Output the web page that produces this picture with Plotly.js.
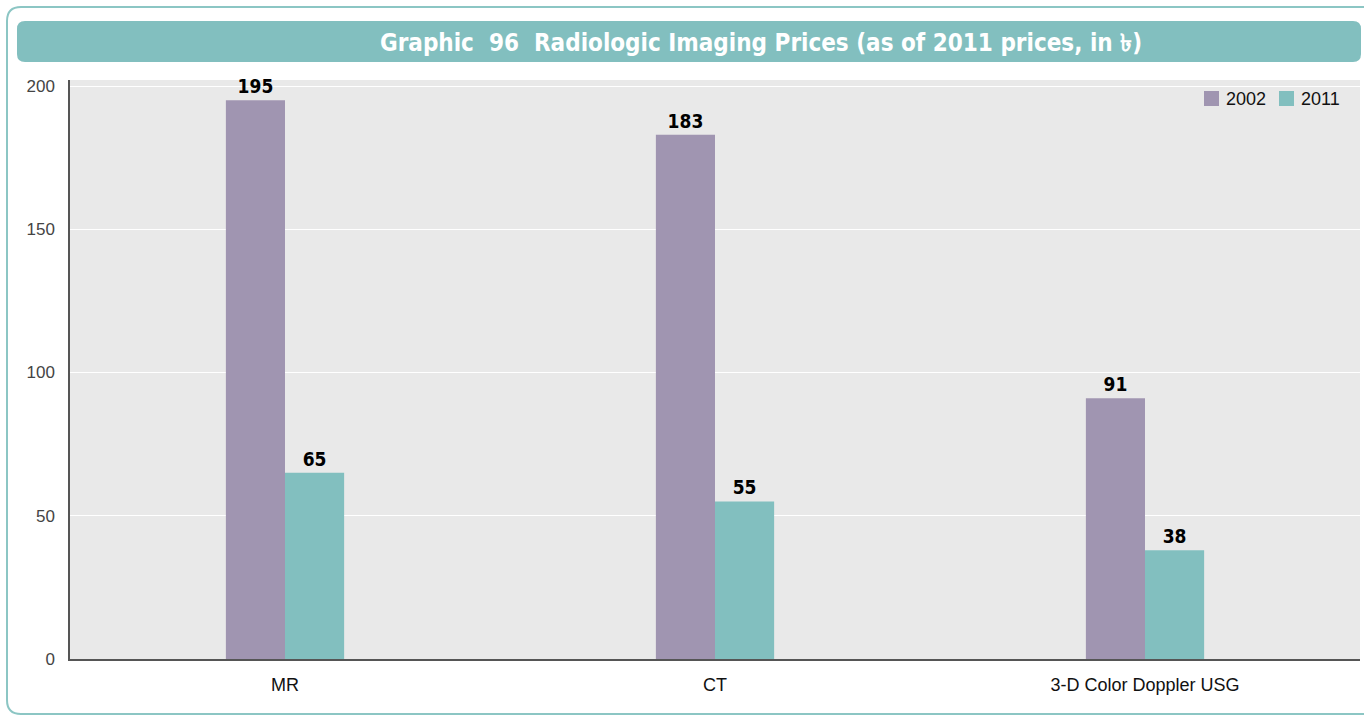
<!DOCTYPE html>
<html>
<head>
<meta charset="utf-8">
<script src="https://cdn.plot.ly/plotly-3.0.1.min.js"></script>
<style>html,body{margin:0;padding:0;background:#fff;}#chart{width:1364px;height:718px;}</style>
</head>
<body>
<div id="chart"></div>
<script>
const categories = ["MR", "CT", "3-D Color Doppler USG"];
const values2002 = [195, 183, 91];
const values2011 = [65, 55, 38];
const seriesNames = ["2002", "2011"];
const yTicks = [0, 50, 100, 150, 200];

const W = 1364, H = 718;
const M = {l: 70, r: 4, t: 80, b: 59};
const PW = W - M.l - M.r, PH = H - M.t - M.b;
function fx(x) { return (x - M.l) / PW; }
function fy(y) { return (H - M.b - y) / PH; }
function px(x) { return fx(x).toFixed(5); }
function py(y) { return fy(y).toFixed(5); }
function roundRect(x0, y0, x1, y1, r) {
  return "M" + px(x0 + r) + "," + py(y0) +
    " L" + px(x1 - r) + "," + py(y0) +
    " Q" + px(x1) + "," + py(y0) + " " + px(x1) + "," + py(y0 + r) +
    " L" + px(x1) + "," + py(y1 - r) +
    " Q" + px(x1) + "," + py(y1) + " " + px(x1 - r) + "," + py(y1) +
    " L" + px(x0 + r) + "," + py(y1) +
    " Q" + px(x0) + "," + py(y1) + " " + px(x0) + "," + py(y1 - r) +
    " L" + px(x0) + "," + py(y0 + r) +
    " Q" + px(x0) + "," + py(y0) + " " + px(x0 + r) + "," + py(y0) + " Z";
}

const COND = "'DejaVu Sans Condensed', 'Liberation Sans Narrow', sans-serif";
const SANS = "'Liberation Sans', Arial, sans-serif";
const colors = ["#A095B1", "#82BFBF"];

const traces = [values2002, values2011].map((vals, i) => ({
  type: "bar",
  name: seriesNames[i],
  x: categories,
  y: vals,
  text: vals.map(String),
  textposition: "outside",
  cliponaxis: false,
  textfont: {family: COND, size: 19, color: "#000", weight: "bold"},
  marker: {color: colors[i]},
  hoverinfo: "x+y+name"
}));

// custom compact legend (squares + names), placed in pixel positions
const legendX = [1204, 1279];
const legendShapes = seriesNames.map((n, i) => ({
  type: "rect", xref: "paper", yref: "paper",
  x0: fx(legendX[i]), x1: fx(legendX[i] + 15),
  y0: fy(106), y1: fy(91),
  line: {width: 0}, fillcolor: colors[i]
}));
const legendAnn = seriesNames.map((n, i) => ({
  xref: "paper", yref: "paper",
  x: fx(legendX[i] + 20), y: fy(99),
  xanchor: "left", yanchor: "middle",
  text: n, showarrow: false,
  font: {family: SANS, size: 18, color: "#111"}
}));

const layout = {
  width: W, height: H,
  margin: M,
  paper_bgcolor: "#ffffff",
  plot_bgcolor: "#E9E9E9",
  barmode: "group",
  bargap: 0.725,
  bargroupgap: 0,
  font: {family: SANS, size: 17, color: "#333"},
  title: {
    text: "<b>Graphic  96  Radiologic Imaging Prices (as of 2011 prices, in ৳)</b>",
    font: {family: COND, size: 24, color: "#ffffff"},
    xref: "paper", x: fx(761), xanchor: "center",
    yref: "container", y: 1 - 43 / H, yanchor: "middle"
  },
  xaxis: {
    showgrid: false,
    showline: true, linecolor: "#555", linewidth: 1.5,
    ticks: "outside", ticklen: 9, tickcolor: "rgba(0,0,0,0)",
    tickfont: {family: SANS, size: 18, color: "#111"},
    fixedrange: true
  },
  yaxis: {
    range: [0, 202.1],
    tickvals: yTicks,
    showgrid: true, gridcolor: "#ffffff", gridwidth: 1,
    zeroline: false,
    showline: true, linecolor: "#555", linewidth: 1.5,
    ticks: "outside", ticklen: 10, tickcolor: "rgba(0,0,0,0)",
    tickfont: {family: SANS, size: 17, color: "#444"},
    fixedrange: true
  },
  showlegend: false,
  annotations: legendAnn,
  shapes: [
    {type: "path", xref: "paper", yref: "paper", layer: "below",
     path: roundRect(7, 7, 1378, 714, 14),
     line: {color: "#8CC6C4", width: 2}, fillcolor: "rgba(0,0,0,0)"},
    {type: "path", xref: "paper", yref: "paper", layer: "below",
     path: roundRect(17, 21, 1361, 62, 8),
     line: {width: 0}, fillcolor: "#82BFBF"}
  ].concat(legendShapes)
};

Plotly.newPlot("chart", traces, layout, {displayModeBar: false});
</script>
</body>
</html>
